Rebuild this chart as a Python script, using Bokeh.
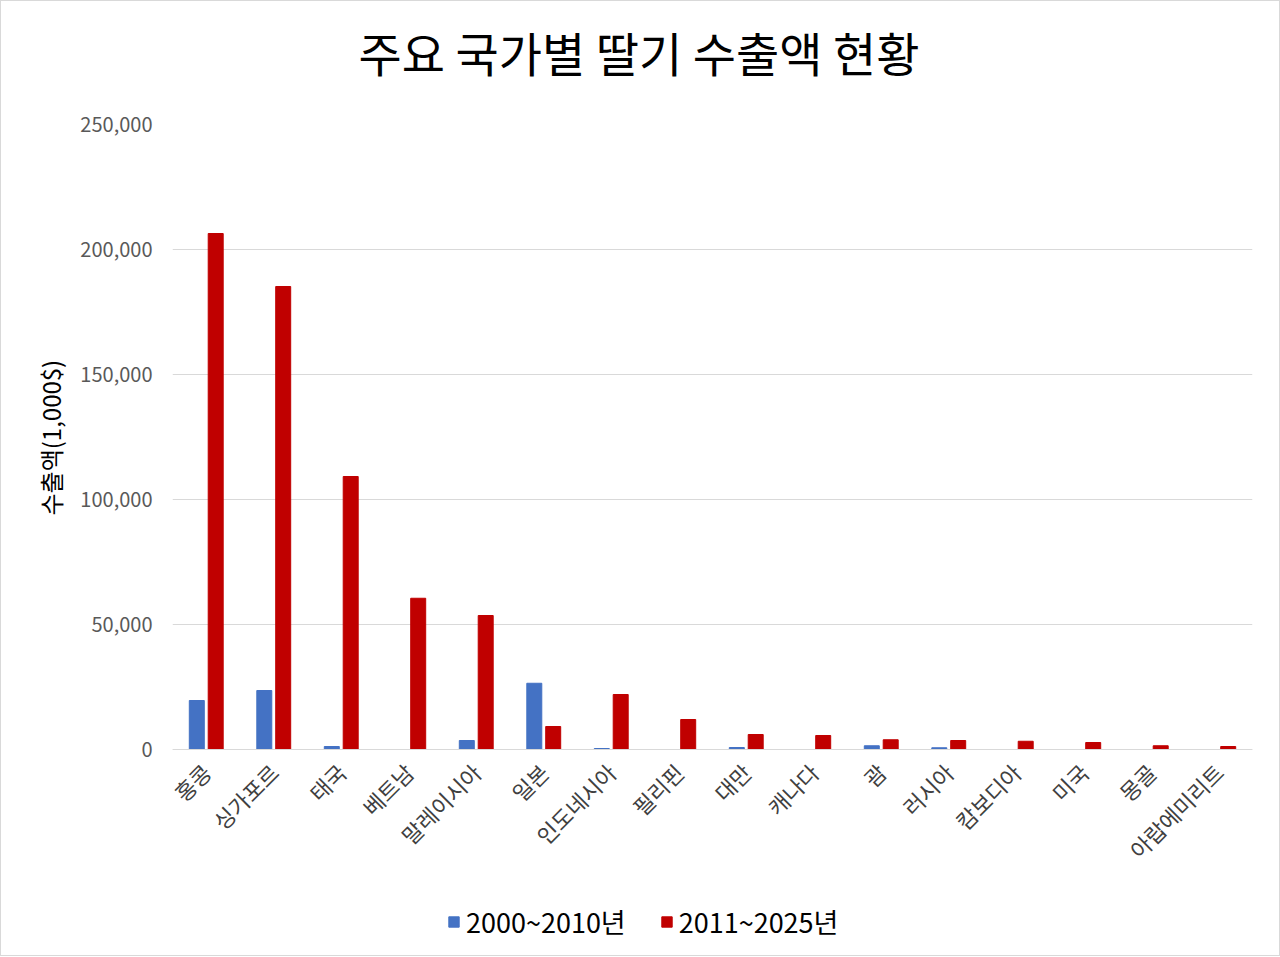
from math import pi
from bokeh.plotting import figure
from bokeh.models import (ColumnDataSource, FactorRange, Range1d, NumeralTickFormatter,
                          Legend, LegendItem, FixedTicker, Title)
from bokeh.transform import dodge
from bokeh.embed import file_html
from bokeh.resources import INLINE

countries = ["홍콩", "싱가포르", "태국", "베트남", "말레이시아", "일본", "인도네시아", "필리핀",
             "대만", "캐나다", "괌", "러시아", "캄보디아", "미국", "몽골", "아랍에미리트"]
exports_2000_2010 = [19600, 23600, 1200, 0, 3600, 26500, 400, 0,
                     800, 0, 1500, 700, 0, 0, 0, 0]
exports_2011_2025 = [206400, 185200, 109200, 60500, 53600, 9200, 22000, 12000,
                     6000, 5600, 3900, 3600, 3300, 2800, 1500, 1200]
series_names = ["2000~2010년", "2011~2025년"]
y_ticks = [0, 50000, 100000, 150000, 200000, 250000]
chart_title = "주요 국가별 딸기 수출액 현황"
y_title = "수출액(1,000$)"

FONT = "Noto Sans CJK KR"

src = ColumnDataSource(dict(country=countries, a=exports_2000_2010, b=exports_2011_2025))

# frame extends below the value axis so that category labels and legend sit inside it
p = figure(frame_width=1080, frame_height=828,
           x_range=FactorRange(*countries, range_padding=0),
           y_range=Range1d(-81200, 250000), output_backend="svg", toolbar_location=None,
           title=None,
           min_border_left=171, min_border_right=27, min_border_top=123, min_border_bottom=3)
p.styles = {"border": "1px solid #d9d9d9"}

spacer = Title(text=" ", text_font=FONT, text_font_size="10px", standoff=22)
main_title = Title(text=chart_title, text_font=FONT, text_font_size="47px",
                   text_font_style="normal", text_color="#000000", align="left",
                   offset=186, standoff=0)
p.add_layout(spacer, "above")
p.add_layout(main_title, "above")

y_label = Title(text=y_title, text_font=FONT, text_font_size="24px",
                text_font_style="normal", text_color="#000000", align="left",
                offset=437, standoff=19, vertical_align="bottom")
p.add_layout(y_label, "left")

r1 = p.vbar(x=dodge("country", -0.14, range=p.x_range), top="a", width=0.222, source=src,
            fill_color="#4472C4", line_color="#4472C4")
r2 = p.vbar(x=dodge("country", 0.14, range=p.x_range), top="b", width=0.222, source=src,
            fill_color="#C00000", line_color="#C00000")

p.outline_line_color = None
p.xgrid.grid_line_color = None
p.ygrid.grid_line_color = "#d9d9d9"
p.ygrid.grid_line_width = 1

p.yaxis.ticker = FixedTicker(ticks=y_ticks)
p.yaxis.formatter = NumeralTickFormatter(format="0,0")
p.yaxis.axis_line_color = None
p.yaxis.major_tick_line_color = None
p.yaxis.minor_tick_line_color = None
p.yaxis.major_tick_out = 0
p.yaxis.major_label_text_font = FONT
p.yaxis.major_label_text_font_size = "20px"
p.yaxis.major_label_text_color = "#595959"
p.yaxis.major_label_standoff = 20

p.xaxis.fixed_location = 0
p.xaxis.axis_line_color = "#d9d9d9"
p.xaxis.axis_line_width = 1
p.xaxis.major_tick_line_color = None
p.xaxis.minor_tick_line_color = None
p.xaxis.major_tick_out = 0
p.xaxis.major_label_orientation = pi / 4
p.xaxis.major_label_text_font = FONT
p.xaxis.major_label_text_font_size = "22px"
p.xaxis.major_label_text_color = "#404040"
p.xaxis.major_label_standoff = 18

legend = Legend(items=[LegendItem(label=series_names[0], renderers=[r1]),
                       LegendItem(label=series_names[1], renderers=[r2])],
                orientation="horizontal", location=(275, 11),
                glyph_width=13, glyph_height=13, label_standoff=6, spacing=34,
                label_text_font=FONT, label_text_font_size="27px", label_text_color="#000000",
                border_line_color=None, background_fill_alpha=0, margin=0, padding=0)
p.add_layout(legend, "center")

open("out.html", "w").write(file_html(p, INLINE))
